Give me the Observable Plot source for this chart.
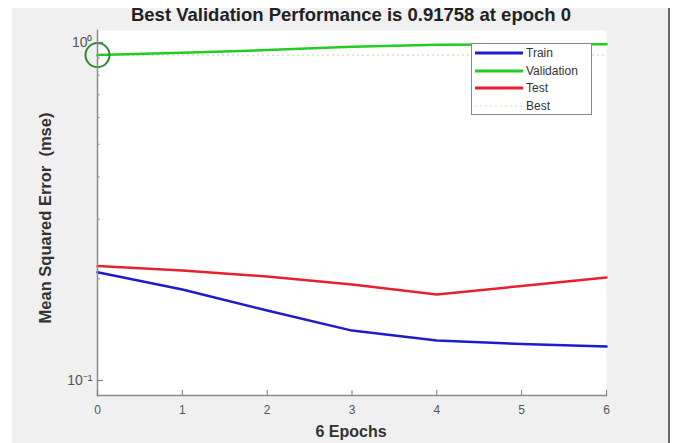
<!DOCTYPE html>
<html>
<head>
<meta charset="utf-8">
<script src="https://cdn.jsdelivr.net/npm/d3@7"></script>
<script src="https://cdn.jsdelivr.net/npm/@observablehq/plot@0.6"></script>
<style>
  html, body { margin: 0; padding: 0; background: #ffffff; }
  #wrap { position: relative; width: 674px; height: 443px; overflow: hidden; font-family: "Liberation Sans", Arial, sans-serif; }
  #panel { position: absolute; left: 12px; top: 8px; width: 656px; height: 435px; background: #f0f0f0; border-right: 2px solid #6a6a6a; }
  #chart { position: absolute; left: 0; top: 0; }
  #title { position: absolute; left: 351px; top: 4px; transform: translateX(-50%); white-space: nowrap; font-weight: bold; font-size: 18.5px; color: #222; }
  #xlabel { position: absolute; left: 351px; top: 423px; transform: translateX(-50%); white-space: nowrap; font-weight: bold; font-size: 16px; color: #333; }
  #ylabel { position: absolute; left: 45px; top: 218px; transform: translate(-50%, -50%) rotate(-90deg); white-space: pre; font-weight: bold; font-size: 16.5px; color: #333; }
  #legend { position: absolute; left: 471px; top: 43px; width: 121px; height: 72px; background: #ffffff; border: 1px solid #8a8a8a; box-sizing: border-box; }
  .item { position: absolute; left: 3px; height: 16px; display: flex; align-items: center; font-size: 12px; color: #333; }
  .item svg { margin-right: 3px; }
</style>
</head>
<body>
<div id="wrap">
  <div id="panel"></div>
  <div id="chart"></div>
  <div id="title"></div>
  <div id="xlabel"></div>
  <div id="ylabel"></div>
  <div id="legend"></div>
</div>
<script>
// ---- data ----
const epochs = [0, 1, 2, 3, 4, 5, 6];
const trainMse = [0.2091, 0.1858, 0.1611, 0.1405, 0.1313, 0.1282, 0.1260];
const validationMse = [0.9176, 0.932, 0.950, 0.972, 0.984, 0.987, 0.988];
const testMse = [0.2182, 0.2115, 0.2031, 0.1923, 0.1797, 0.1904, 0.2017];
const bestEpoch = 0;
const bestValue = 0.91758;
const seriesNames = ["Train", "Validation", "Test", "Best"];
const seriesColors = ["#1c1ccc", "#22cc22", "#e8202e", "#c8e6a8"];
const yTicks = [0.1, 1];
const yTickLabels = ["10\u207B\u00B9", "10\u2070"];
const yMinorTicks = [0.2, 0.3, 0.4, 0.5, 0.6, 0.7, 0.8, 0.9];
const xTicks = [0, 1, 2, 3, 4, 5, 6];
const titleText = "Best Validation Performance is 0.91758 at epoch 0";
const xLabelText = "6 Epochs";
const yLabelText = "Mean Squared Error  (mse)";

// ---- build tables ----
const series = [trainMse, validationMse, testMse];
const rows = [];
series.forEach((vals, s) => epochs.forEach((e, i) => rows.push({epoch: e, mse: vals[i], name: seriesNames[s]})));
const bestPoint = [{epoch: bestEpoch, mse: bestValue}];

const plot = Plot.plot({
  width: 674,
  height: 443,
  marginLeft: 97,
  marginRight: 68,
  marginTop: 30,
  marginBottom: 48,
  style: {background: "transparent", fontFamily: "'Liberation Sans', Arial, sans-serif", fontSize: "12px", color: "#555"},
  x: {domain: [0, 6]},
  y: {type: "log", domain: [0.0903, 1.085]},
  marks: [
    Plot.frame({fill: "white", stroke: null}),
    Plot.ruleY([bestValue], {stroke: seriesColors[3], strokeWidth: 1.2, strokeDasharray: "2,3"}),
    Plot.ruleX([bestEpoch], {stroke: seriesColors[3], strokeWidth: 1.2, strokeDasharray: "2,3"}),
    ...seriesNames.slice(0, 3).map((n, s) =>
      Plot.line(rows.filter(r => r.name === n), {x: "epoch", y: "mse", stroke: seriesColors[s], strokeWidth: 2.5})
    ),
    Plot.dot(bestPoint, {x: "epoch", y: "mse", r: 12, stroke: "#2e8a2e", strokeWidth: 2, fill: "none"}),
    Plot.frame({anchor: "left", stroke: "#8c8c8c", strokeWidth: 1.5}),
    Plot.frame({anchor: "bottom", stroke: "#8c8c8c", strokeWidth: 1.5}),
    Plot.axisX({ticks: xTicks, tickFormat: d => String(d), tickSize: -5, tickPadding: 15, label: null, stroke: "#777", color: "#555"}),
    Plot.axisY({ticks: yTicks, tickFormat: d => yTickLabels[yTicks.indexOf(d)], tickSize: -6, tickPadding: 11, label: null, stroke: "#777", color: "#555", fontSize: 14}),
    Plot.axisY({ticks: yMinorTicks, tickFormat: () => "", tickSize: -3, label: null, stroke: "#999"})
  ]
});
document.getElementById("chart").appendChild(plot);

document.getElementById("title").textContent = titleText;
document.getElementById("xlabel").textContent = xLabelText;
document.getElementById("ylabel").textContent = yLabelText;

// legend
const legend = document.getElementById("legend");
const itemTops = [1, 19, 36, 54];
seriesNames.forEach((n, i) => {
  const div = document.createElement("div");
  div.className = "item";
  div.style.top = itemTops[i] + "px";
  const dash = i === 3 ? 'stroke-dasharray="2,3" stroke-width="1.2"' : 'stroke-width="3"';
  div.innerHTML = `<svg width="48" height="8"><line x1="0" y1="4" x2="48" y2="4" stroke="${seriesColors[i]}" ${dash}/></svg>`;
  const span = document.createElement("span");
  span.textContent = n;
  div.appendChild(span);
  legend.appendChild(div);
});
</script>
</body>
</html>
